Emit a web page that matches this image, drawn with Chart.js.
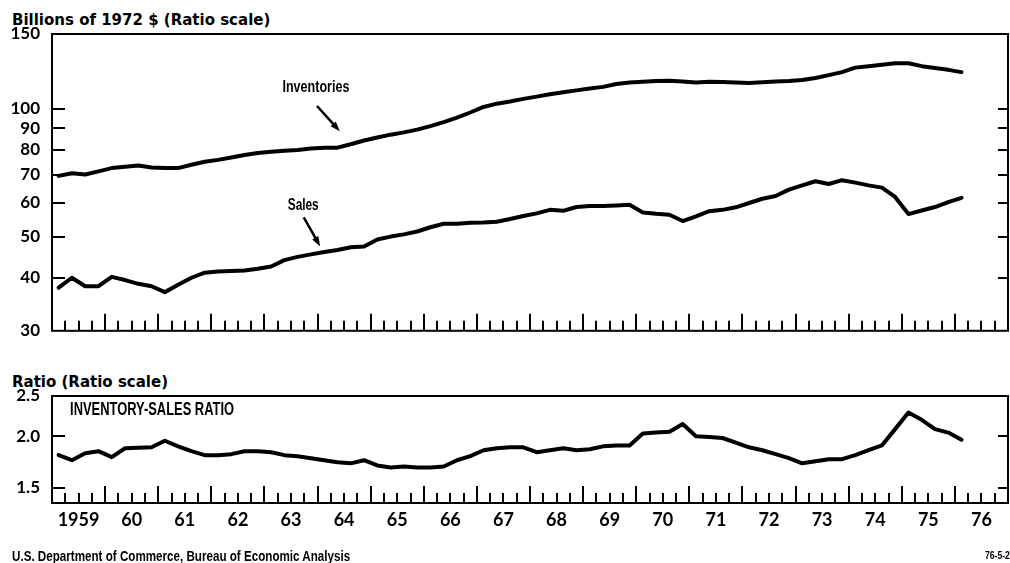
<!DOCTYPE html>
<html>
<head>
<meta charset="utf-8">
<script src="https://cdn.jsdelivr.net/npm/chart.js@4.4.1/dist/chart.umd.min.js"></script>
<style>
  body { margin: 0; background: #fff; width: 1010px; height: 563px; position: relative; overflow: hidden; }
  canvas { position: absolute; left: 0; }
  #topChart { top: 0; }
  #ratioChart { top: 345px; }
  .lbl { position: absolute; left: 12px; font: bold 15px/15px "DejaVu Sans", sans-serif; color: #000; white-space: nowrap; }
  .foot { position: absolute; font: bold 15px/15px "Liberation Sans", sans-serif; color: #000; white-space: nowrap; transform-origin: left center; }
</style>
</head>
<body>
<div class="lbl" style="top:13px">Billions of 1972 $ (Ratio scale)</div>
<canvas id="topChart" width="1010" height="353"></canvas>
<div class="lbl" style="top:375px">Ratio (Ratio scale)</div>
<canvas id="ratioChart" width="1010" height="218"></canvas>
<div class="foot" id="source" style="left:12px; top:548px">U.S. Department of Commerce, Bureau of Economic Analysis</div>
<div class="foot" id="code" style="left:985px; top:551px; font-size:10px; line-height:10px">76-5-2</div>
<script>
// quarterly values, 1959 Q1 .. 1976 Q1
const firstYear = 1959;
const yearLabels = ['1959', '60', '61', '62', '63', '64', '65', '66', '67', '68', '69', '70', '71', '72', '73', '74', '75', '76'];

const sales = [
  37.9, 40.0, 38.2, 38.2,
  40.2, 39.5, 38.7, 38.2,
  37.0, 38.5, 40.0, 41.1,
  41.4, 41.5, 41.6, 42.0,
  42.5, 44.0, 44.8, 45.4,
  46.0, 46.5, 47.2, 47.4,
  49.2, 50.0, 50.6, 51.4,
  52.6, 53.6, 53.6, 53.9,
  54.0, 54.2, 55.0, 55.9,
  56.7, 57.8, 57.5, 58.7,
  59.0, 59.0, 59.2, 59.4,
  57.0, 56.6, 56.3, 54.4,
  55.8, 57.4, 57.8, 58.6,
  60.0, 61.4, 62.3, 64.5,
  66.0, 67.5, 66.5, 67.9,
  67.0, 66.0, 65.2, 62.0,
  56.5, 57.6, 58.7, 60.3,
  61.7
];

const inventories = [
  69.5, 70.5, 70.0, 71.2,
  72.5, 73.0, 73.5, 72.7,
  72.5, 72.5, 73.8, 75.0,
  75.8, 76.8, 77.8, 78.7,
  79.2, 79.6, 80.0, 80.6,
  81.0, 81.0, 82.5, 84.2,
  85.6, 86.9, 88.0, 89.3,
  91.0, 93.0, 95.3, 98.0,
  101.0, 102.8, 104.0, 105.5,
  106.8, 108.2, 109.4, 110.5,
  111.6, 112.6, 114.4, 115.3,
  115.8, 116.2, 116.4, 116.0,
  115.3, 115.8, 115.6, 115.3,
  115.0, 115.5, 115.9, 116.3,
  116.9, 118.2, 120.0, 122.0,
  125.0, 126.0, 127.0, 128.0,
  128.0, 126.0, 124.8, 123.5,
  122.0
];

const ratio = [
  1.80, 1.75, 1.82, 1.84,
  1.78, 1.87, 1.875, 1.88,
  1.95, 1.89, 1.84, 1.80,
  1.80, 1.81, 1.84, 1.84,
  1.83, 1.80, 1.79, 1.77,
  1.75, 1.73, 1.72, 1.75,
  1.70, 1.68, 1.69, 1.68,
  1.68, 1.69, 1.75, 1.79,
  1.85, 1.87, 1.88, 1.88,
  1.83, 1.85, 1.87, 1.85,
  1.86, 1.89, 1.90, 1.90,
  2.03, 2.04, 2.05, 2.14,
  2.00, 1.99, 1.98, 1.93,
  1.88, 1.85, 1.81, 1.77,
  1.72, 1.74, 1.76, 1.76,
  1.80, 1.85, 1.90, 2.08,
  2.28, 2.19, 2.08, 2.04,
  1.96
];

const topTicks = [30, 40, 50, 60, 70, 80, 90, 100, 150];
const ratioTicks = [1.5, 2.0, 2.5];

// no narrow face installed, so the lettering gets squeezed to fit
const squeezeTo = (el, w) => { el.style.transform = `scaleX(${w / el.offsetWidth})`; };
squeezeTo(document.getElementById('source'), 338);
squeezeTo(document.getElementById('code'), 25);

// each value sits in the middle of its quarter
const toPoints = arr => arr.map((v, i) => ({ x: firstYear + (i + 0.5) / 4, y: v }));

const lineSet = arr => ({
  data: toPoints(arr),
  borderColor: '#000',
  borderWidth: 4,
  pointRadius: 0,
  tension: 0,
  borderJoinStyle: 'round',
  borderCapStyle: 'round'
});

// box, quarter marks, inner y marks and the hand lettering
function makeFrame(marks, notes, arrows) {
  return {
    id: 'frame',
    afterDraw(chart) {
      const { ctx, chartArea: a } = chart;
      const xs = chart.scales.x, ys = chart.scales.y;
      ctx.save();
      ctx.strokeStyle = '#000';
      ctx.lineWidth = 2;
      ctx.strokeRect(a.left, a.top, a.right - a.left, a.bottom - a.top);
      ctx.beginPath();
      for (let q = 1; q < yearLabels.length * 4; q++) {
        const px = Math.round(xs.getPixelForValue(firstYear + q / 4));
        const len = q % 4 === 0 ? 17 : 10;
        ctx.moveTo(px, a.bottom);
        ctx.lineTo(px, a.bottom - len);
      }
      marks.forEach(v => {
        const py = Math.round(ys.getPixelForValue(v));
        ctx.moveTo(a.left, py);
        ctx.lineTo(a.left + 13, py);
        ctx.moveTo(a.right, py);
        ctx.lineTo(a.right - 10, py);
      });
      ctx.stroke();

      ctx.fillStyle = '#000';
      ctx.textBaseline = 'middle';
      ctx.textAlign = 'left';
      notes.forEach(n => {
        ctx.font = n.font;
        const k = n.w / ctx.measureText(n.text).width;
        let px = xs.getPixelForValue(n.x);
        if (n.center) px -= n.w / 2;
        ctx.save();
        ctx.translate(px, ys.getPixelForValue(n.y));
        ctx.scale(k, 1);
        ctx.fillText(n.text, 0, 0);
        ctx.restore();
      });

      arrows.forEach(ar => {
        const x0 = xs.getPixelForValue(ar.from[0]), y0 = ys.getPixelForValue(ar.from[1]);
        const x1 = xs.getPixelForValue(ar.to[0]), y1 = ys.getPixelForValue(ar.to[1]);
        const ang = Math.atan2(y1 - y0, x1 - x0);
        const c = Math.cos(ang), s = Math.sin(ang);
        ctx.lineWidth = 2.5;
        ctx.beginPath();
        ctx.moveTo(x0, y0);
        ctx.lineTo(x1 - 6 * c, y1 - 6 * s);
        ctx.stroke();
        ctx.beginPath();
        ctx.moveTo(x1, y1);
        ctx.lineTo(x1 - 10 * c + 3.5 * s, y1 - 10 * s - 3.5 * c);
        ctx.lineTo(x1 - 10 * c - 3.5 * s, y1 - 10 * s + 3.5 * c);
        ctx.closePath();
        ctx.fill();
      });
      ctx.restore();
    }
  };
}

const xRange = { type: 'linear', min: firstYear, max: firstYear + yearLabels.length };

const yAxis = (min, max, ticks, fmt) => ({
  type: 'logarithmic',
  min, max,
  grid: { display: false, drawTicks: false },
  border: { display: false },
  afterBuildTicks: s => { s.ticks = ticks.map(v => ({ value: v })); },
  afterFit: s => { s.width = 52; },
  ticks: {
    padding: 12,
    color: '#000',
    font: { family: 'Lato, sans-serif', weight: 'bold', size: 17 },
    callback: v => fmt(v)
  }
});

const letter = 'bold 17px "Liberation Sans", sans-serif';

// the tick label padding of the y axis also keeps ~22px free below the box
new Chart(document.getElementById('topChart'), {
  type: 'line',
  data: { datasets: [lineSet(inventories), lineSet(sales)] },
  options: {
    responsive: false,
    animation: false,
    layout: { autoPadding: false, padding: { top: 34, right: 2, bottom: 0, left: 0 } },
    plugins: { legend: { display: false }, tooltip: { enabled: false } },
    scales: {
      x: { ...xRange, display: false },
      y: yAxis(30, 150, topTicks, v => String(v))
    }
  },
  plugins: [makeFrame(
    [40, 50, 60, 70, 80, 90, 100],
    [
      { text: 'Inventories', x: 1963.97, y: 112.5, w: 67, center: true, font: letter },
      { text: 'Sales', x: 1963.73, y: 59.3, w: 31, center: true, font: letter }
    ],
    [
      { from: [1963.99, 101.5], to: [1964.42, 88.5] },
      { from: [1963.74, 55.5], to: [1964.05, 47.4] }
    ]
  )]
});

new Chart(document.getElementById('ratioChart'), {
  type: 'line',
  data: { datasets: [lineSet(ratio)] },
  options: {
    responsive: false,
    animation: false,
    layout: { autoPadding: false, padding: { top: 51, right: 2, bottom: 30, left: 0 } },
    plugins: { legend: { display: false }, tooltip: { enabled: false } },
    scales: {
      x: {
        ...xRange,
        grid: { display: false, drawTicks: false },
        border: { display: false },
        afterBuildTicks: s => { s.ticks = yearLabels.map((t, i) => ({ value: firstYear + i + 0.5 })); },
        afterFit: s => { s.height = 30; },
        ticks: {
          padding: 6,
          autoSkip: false,
          maxRotation: 0,
          color: '#000',
          font: { family: 'Lato, sans-serif', weight: 'bold', size: 18 },
          callback: (v, i) => yearLabels[i]
        }
      },
      y: yAxis(1.38, 2.5, ratioTicks, v => v.toFixed(1))
    }
  },
  plugins: [makeFrame(
    [1.5, 2.0],
    [{ text: 'INVENTORY-SALES RATIO', x: 1959.34, y: 2.31, w: 164, font: 'bold 18px "Liberation Sans", sans-serif' }],
    []
  )]
});
</script>
</body>
</html>
